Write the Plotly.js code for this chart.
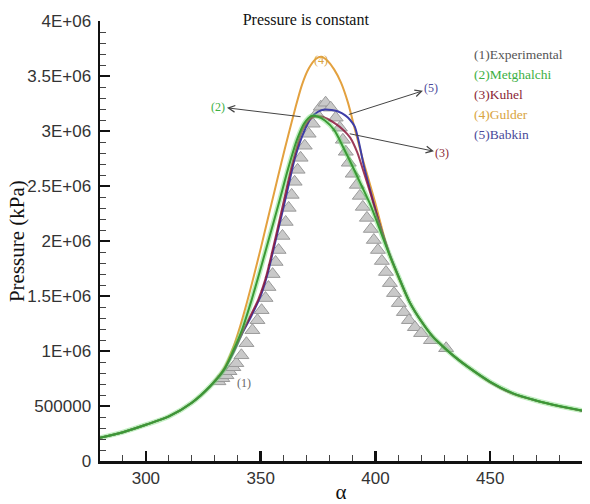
<!DOCTYPE html>
<html><head><meta charset="utf-8">
<script src="https://cdn.plot.ly/plotly-3.0.1.min.js"></script>
<style>html,body{margin:0;padding:0;background:#fff}#chart{width:590px;height:504px}</style>
</head><body><div id="chart"></div>
<script>
// Experimental (1)
const expAlpha = [331.6,333.3,335.1,336.4,338.1,339.4,341.6,343.8,346.4,348.6,350.4,352.1,353.4,355.2,356.5,357.8,359.5,360.9,362.2,363.5,364.8,366.1,367.4,369.2,370.9,372.7,374.4,376.2,378.3,380.5,382.7,384.5,385.8,387.1,388.4,390.1,391.9,393.2,394.5,396.3,398.0,399.3,401.1,402.8,404.6,406.3,408.1,410.2,412.4,414.6,417.2,419.9,424.2,430.8];
const expP = [724000,752000,779000,816000,852000,889000,961000,1071000,1189000,1280000,1371000,1481000,1581000,1699000,1809000,1918000,2046000,2173000,2301000,2419000,2538000,2647000,2756000,2866000,2975000,3066000,3157000,3221000,3257000,3212000,3121000,3030000,2920000,2811000,2711000,2611000,2510000,2410000,2310000,2210000,2109000,2009000,1918000,1818000,1718000,1617000,1526000,1435000,1353000,1280000,1216000,1162000,1098000,1025000];

// (2) Metghalchi
const metAlpha = [280,290,300,310,320,328,334,338,342,346,350,354,358,362,366,369,372,375,378,382,386,390,394,398,402,406,410,415,420,425,430,435,440,450,460,470,480,490];
const metP = [211000,262000,330000,405000,530000,680000,830000,1000000,1200000,1460000,1750000,2050000,2350000,2660000,2930000,3070000,3135000,3130000,3095000,3010000,2850000,2680000,2500000,2320000,2100000,1880000,1680000,1440000,1270000,1130000,1030000,940000,860000,720000,615000,550000,500000,458000];

// (3) Kuhel
const kuhAlpha = [280,290,300,310,320,328,334,338,342,346,349,352,355,358,361,364,368,371,373,375,377,380,383,386,389,392,395,398,402,406,410,415,420,425,430,435,440,450,460,470,480,490];
const kuhP = [211000,262000,330000,405000,530000,680000,830000,990000,1170000,1340000,1470000,1650000,1900000,2170000,2450000,2720000,3000000,3100000,3130000,3135000,3130000,3100000,3060000,3010000,2940000,2810000,2620000,2420000,2140000,1890000,1680000,1440000,1270000,1130000,1030000,940000,860000,718000,612000,549000,499000,457000];

// (4) Gulder
const gulAlpha = [280,290,300,310,320,328,334,338,341,344,347,350,353,356,359,362,365,368,371,374,376.5,379,382,385,388,391,394,397,400,403,406,410,415,420,425,430,435,440,450,460,470,480,490];
const gulP = [211000,262000,330000,405000,530000,680000,840000,1030000,1220000,1440000,1680000,1930000,2190000,2450000,2710000,2960000,3200000,3420000,3570000,3655000,3675000,3640000,3560000,3440000,3260000,3020000,2780000,2560000,2340000,2100000,1880000,1670000,1440000,1270000,1130000,1030000,940000,860000,715000,610000,548000,498000,456000];

// (5) Babkin
const babAlpha = [280,290,300,310,320,328,334,338,342,346,350,353,356,359,362,365,369,372,375,378,381,384,387,389,391,393,395,398,402,406,410,415,420,425,430,435,440,450,460,470,480,490];
const babP = [211000,262000,330000,405000,530000,680000,830000,980000,1160000,1320000,1500000,1700000,1960000,2220000,2490000,2760000,3000000,3120000,3175000,3195000,3190000,3175000,3140000,3100000,3040000,2880000,2680000,2440000,2140000,1890000,1680000,1440000,1270000,1130000,1030000,940000,860000,718000,612000,549000,499000,457000];

// axis ticks
const yTickVals = [0,500000,1000000,1500000,2000000,2500000,3000000,3500000,4000000];
const yTickText = ['0','500000','1E+06','1.5E+06','2E+06','2.5E+06','3E+06','3.5E+06','4E+06'];
const xTickVals = [300,350,400,450];
const xTickText = ['300','350','400','450'];

// legend labels
const legendLabels = ['(1)Experimental','(2)Metghalchi','(3)Kuhel','(4)Gulder','(5)Babkin'];
const legendColors = ['#555555','#3cb043','#8a1f35','#d9a441','#4a4a9a'];

const serif = 'Liberation Serif, Times New Roman, serif';
const sans = 'Liberation Sans, Arial, sans-serif';

function line(x, y, color, width) {
  return {x: x, y: y, type: 'scatter', mode: 'lines', showlegend: false, hoverinfo: 'skip',
          line: {color: color, width: width, shape: 'spline', smoothing: 0.8}};
}

const traces = [
  {x: expAlpha, y: expP, type: 'scatter', mode: 'markers', showlegend: false,
   marker: {symbol: 'triangle-up', size: 13, color: '#c9c9c9', line: {color: '#9a9a9a', width: 1}}},
  line(gulAlpha, gulP, '#e3a13f', 2),
  line(babAlpha, babP, '#3e3ea8', 2),
  line(kuhAlpha, kuhP, 'rgba(140,25,60,0.85)', 2),
  line(metAlpha, metP, 'rgba(110,220,110,0.45)', 5),
  line(metAlpha, metP, '#3a9a35', 2)
];

const annotations = [];
for (let i = 0; i < legendLabels.length; i++) {
  annotations.push({xref: 'paper', yref: 'paper', x: 0.772, y: 0.924 - i * 0.0455,
    xanchor: 'left', yanchor: 'middle', showarrow: false, text: legendLabels[i],
    font: {family: serif, size: 13.5, color: legendColors[i]}});
}
annotations.push(
  {xref: 'paper', yref: 'paper', x: -0.172, y: 0.5, xanchor: 'center', yanchor: 'middle', textangle: -90,
   showarrow: false, text: 'Pressure (kPa)', font: {family: serif, size: 21, color: '#111'}},
  {x: 376.2, y: 3650000, text: '(4)', showarrow: false, font: {family: serif, size: 12, color: '#d9a441'}},
  {x: 342.8, y: 712000, text: '(1)', showarrow: false, font: {family: serif, size: 12, color: '#666'}},
  {x: 367.4, y: 3130000, ax: 331.6, ay: 3220000, axref: 'x', ayref: 'y', text: '(2)',
   showarrow: true, arrowside: 'start', arrowhead: 5, startarrowhead: 5, startarrowsize: 1.3, arrowsize: 1.3, arrowwidth: 1, arrowcolor: '#444',
   font: {family: serif, size: 12, color: '#3cb043'}},
  {x: 388.4, y: 3150000, ax: 424.4, ay: 3390000, axref: 'x', ayref: 'y', text: '(5)',
   showarrow: true, arrowside: 'start', arrowhead: 5, startarrowhead: 5, startarrowsize: 1.3, arrowsize: 1.3, arrowwidth: 1, arrowcolor: '#444',
   font: {family: serif, size: 12, color: '#4a4a9a'}},
  {x: 388.8, y: 2975000, ax: 429.2, ay: 2800000, axref: 'x', ayref: 'y', text: '(3)',
   showarrow: true, arrowside: 'start', arrowhead: 5, startarrowhead: 5, startarrowsize: 1.3, arrowsize: 1.3, arrowwidth: 1, arrowcolor: '#444',
   font: {family: serif, size: 12, color: '#8a1f35'}}
);

const layout = {
  width: 590, height: 504,
  margin: {l: 100, r: 8, t: 21, b: 43},
  paper_bgcolor: '#fff', plot_bgcolor: '#fff',
  title: {text: 'Pressure is constant', font: {family: serif, size: 16, color: '#111'},
          x: 0.427, xref: 'paper', xanchor: 'center', y: 1 - 19/504, yref: 'container', yanchor: 'middle'},
  xaxis: {range: [280, 490], showgrid: false, zeroline: false, showline: true, linecolor: '#111', linewidth: 2.5,
          tickmode: 'array', tickvals: xTickVals, ticktext: xTickText, ticks: 'inside', ticklen: 10, tickwidth: 2.5, tickcolor: '#111',
          minor: {tickmode: 'linear', tick0: 280, dtick: 10, ticks: 'inside', ticklen: 6, tickwidth: 1, tickcolor: '#444', showgrid: false},
          tickfont: {family: sans, size: 17, color: '#333'},
          title: {text: 'α', font: {family: serif, size: 21, color: '#111'}, standoff: 7}},
  yaxis: {range: [0, 4000000], showgrid: false, zeroline: false, showline: true, linecolor: '#111', linewidth: 2.5,
          tickmode: 'array', tickvals: yTickVals, ticktext: yTickText, ticks: 'inside', ticklen: 10, tickwidth: 2.5, tickcolor: '#111',
          ticklabelstandoff: 3,
          minor: {tickmode: 'linear', tick0: 0, dtick: 100000, ticks: 'inside', ticklen: 6, tickwidth: 1, tickcolor: '#444', showgrid: false},
          tickfont: {family: sans, size: 17, color: '#333'}},
  annotations: annotations
};

Plotly.newPlot('chart', traces, layout, {displayModeBar: false, staticPlot: true});
</script>
</body></html>
